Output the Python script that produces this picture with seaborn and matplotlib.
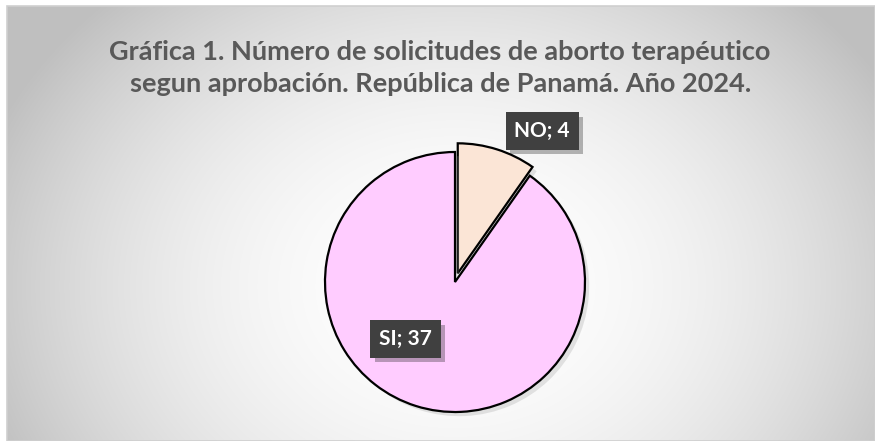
import numpy as np
import matplotlib
matplotlib.use("Agg")
import matplotlib.pyplot as plt
import matplotlib.patheffects as pe
import seaborn as sns

sns.set_theme(style="white")
plt.rcParams["font.family"] = ["Lato", "DejaVu Sans"]

# Solicitudes de aborto terapéutico según aprobación, Panamá 2024
data = {"NO": 4, "SI": 37}
colors = {"NO": "#FBE5D6", "SI": "#FFCCFF"}

W, H = 875, 441
fig = plt.figure(figsize=(W / 100, H / 100), dpi=100)
fig.patch.set_facecolor("white")

# background with radial gradient (white centre, grey corners)
bg = fig.add_axes([7 / W, 0, (W - 7) / W, (H - 6) / H])
yy, xx = np.mgrid[0:H - 6, 0:W - 7]
cx, cy = 448, 280
d = np.sqrt(((xx - cx) / 500) ** 2 + ((yy - cy) / 400) ** 2)
d = np.clip(d, 0, 1)
shade = 1 - 0.25 * d ** 2.0
bg.imshow(np.dstack([shade, shade, shade]), aspect="auto", extent=(0, 1, 0, 1))
bg.set_axis_off()
fig.patches.append(plt.Rectangle((7 / W, 0), (W - 7) / W, (H - 6) / H,
                                 transform=fig.transFigure, fill=False,
                                 ec="#cfcfcf", lw=1.2))

# pie axes: radius 1 -> 130 px, centre at (455, 282) from top
R = 130
half = 150
ax = fig.add_axes([(455 - half) / W, (H - 282 - half) / H, 2 * half / W, 2 * half / H])
ax.set_axis_off()

labels = list(data.keys())
values = list(data.values())
wedges, _ = ax.pie(values, colors=[colors[k] for k in labels], startangle=90,
                   counterclock=False, explode=[0.07, 0],
                   wedgeprops=dict(edgecolor="black", linewidth=1.6))
for w in wedges:
    w.set_path_effects([pe.SimplePatchShadow(offset=(3, -3), shadow_rgbFace="#888888", alpha=0.22),
                        pe.Normal()])
ax.set_xlim(-half / R, half / R)
ax.set_ylim(-half / R, half / R)

# data labels
pos = {"NO": (0.67, 1.16), "SI": (-0.38, -0.44)}
for k in labels:
    t = ax.text(*pos[k], f"{k}; {data[k]}", ha="center", va="center",
                color="white", fontsize=15, fontweight="bold",
                bbox=dict(boxstyle="square,pad=0.42", fc="#404040", ec="none"))
    t.get_bbox_patch().set_path_effects([pe.SimplePatchShadow(offset=(3, -3), alpha=0.3),
                                         pe.Normal()])

title_kw = dict(ha="center", va="center", fontsize=19.5, fontweight="bold", color="#595959")
fig.text(0.503, 1 - 52 / H, "Gráfica 1. Número de solicitudes de aborto terapéutico", **title_kw)
fig.text(0.503, 1 - 84 / H, "segun aprobación. República de Panamá. Año 2024.", **title_kw)

fig.savefig("out.png", dpi=100)
